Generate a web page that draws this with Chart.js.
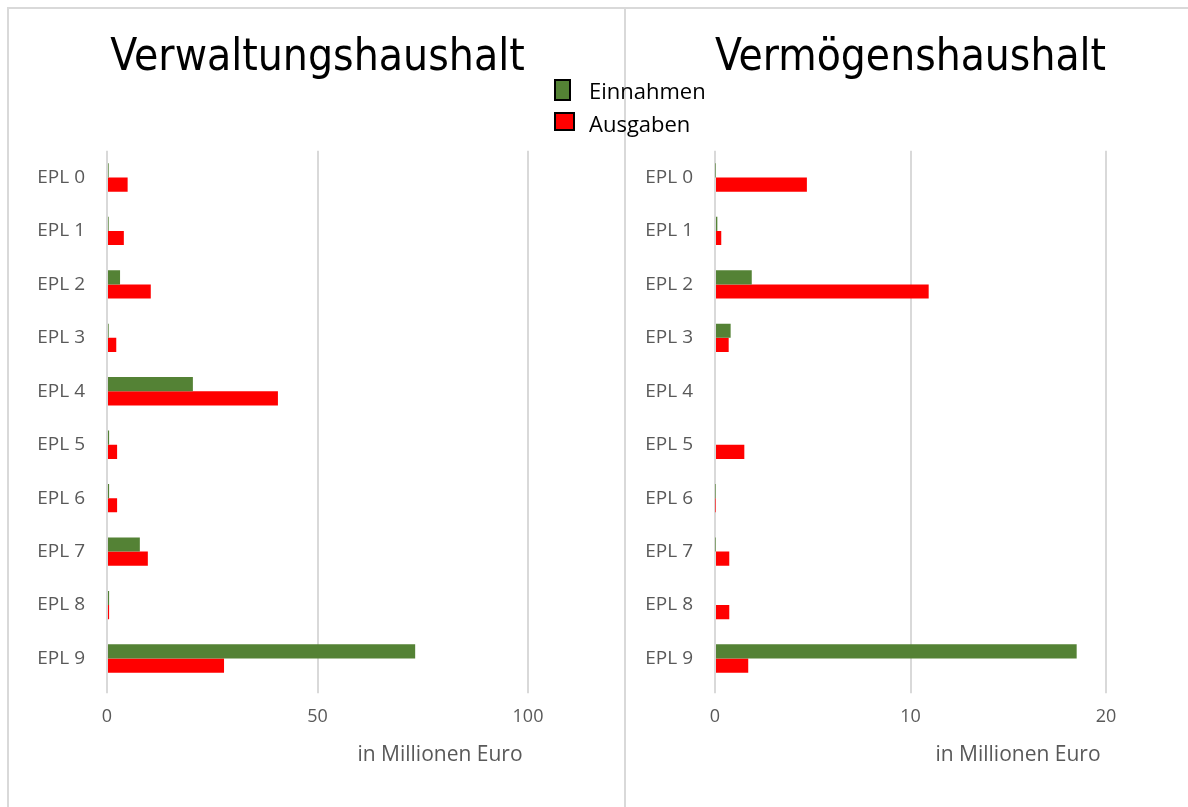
<!DOCTYPE html>
<html><head><meta charset="utf-8">
<script src="https://cdn.jsdelivr.net/npm/chart.js@4"></script>
<style>
html,body{margin:0;padding:0;background:#fff;}
#wrap{position:relative;width:1188px;height:807px;overflow:hidden;background:#fff;}
.frame{position:absolute;background:#d9d9d9;}
canvas{position:absolute;}
#legend{position:absolute;left:554px;top:79px;font-family:'Open Sans',sans-serif;font-size:22px;color:#000;line-height:1;}
.li{position:relative;height:33px;}
.sw{position:absolute;left:0;box-sizing:border-box;border:2px solid #000;}
.lt{position:absolute;left:35px;top:0px;white-space:nowrap;}
</style>
</head><body>
<div id="wrap">
  <div class="frame" style="left:7px;top:7px;width:1181px;height:2px;"></div>
  <div class="frame" style="left:7px;top:7px;width:2px;height:800px;"></div>
  <div class="frame" style="left:624px;top:7px;width:2px;height:800px;"></div>
  <canvas id="c1" width="617" height="799" style="left:8px;top:8px;"></canvas>
  <canvas id="c2" width="562" height="799" style="left:626px;top:8px;"></canvas>
  <div id="legend"></div>
</div>
<script>
// ---- data ----
const categories = ['EPL 0','EPL 1','EPL 2','EPL 3','EPL 4','EPL 5','EPL 6','EPL 7','EPL 8','EPL 9'];
const seriesNames = ['Einnahmen','Ausgaben'];
const seriesColors = ['#548235','#FF0000'];
const chartTitles = ['Verwaltungshaushalt','Vermögenshaushalt'];
const axisTitle = 'in Millionen Euro ';
const verwEinnahmen = [0.4, 0.4, 3.1, 0.4, 20.4, 0.5, 0.5, 7.8, 0.5, 73.2];
const verwAusgaben  = [4.9, 4.0, 10.4, 2.2, 40.6, 2.4, 2.4, 9.7, 0.5, 27.8];
const vermEinnahmen = [0.02, 0.12, 1.88, 0.8, 0, 0, 0.02, 0.02, 0, 18.5];
const vermAusgaben  = [4.7, 0.32, 10.93, 0.7, 0, 1.5, 0.02, 0.73, 0.73, 1.7];
const verwTicks = [0, 50, 100];
const vermTicks = [0, 10, 20];

// ---- legend ----
const legendEl = document.getElementById('legend');
const swatchSizes = [[17,22],[21,19]];
seriesNames.forEach((n,i)=>{
  const d = document.createElement('div'); d.className='li';
  const s = document.createElement('div'); s.className='sw';
  s.style.width = swatchSizes[i][0]+'px'; s.style.height = swatchSizes[i][1]+'px';
  s.style.background = seriesColors[i];
  const t = document.createElement('div'); t.className='lt'; t.textContent = n;
  d.appendChild(s); d.appendChild(t); legendEl.appendChild(d);
});

const tickFont = {family:"'Open Sans', sans-serif", size:18};
const catFont = {family:"'Open Sans', sans-serif", size:19};
const gray = '#595959';

function makeChart(id, title, ein, aus, ticks, pad){
  const tmin = ticks[0], tmax = ticks[ticks.length-1];
  return new Chart(document.getElementById(id), {
    type:'bar',
    data:{
      labels: categories,
      datasets:[
        {label:seriesNames[0], data:ein, backgroundColor:seriesColors[0], categoryPercentage:0.53, barPercentage:1},
        {label:seriesNames[1], data:aus, backgroundColor:seriesColors[1], categoryPercentage:0.53, barPercentage:1}
      ]
    },
    options:{
      indexAxis:'y', responsive:false, animation:false, devicePixelRatio:1,
      layout:{padding:{left:0, right:pad.r, top:0, bottom:pad.b}},
      plugins:{
        legend:{display:false}, tooltip:{enabled:false},
        title:{display:true, text:title, color:'#000', fullSize:false,
          font:{family:"'DejaVu Sans Condensed', 'DejaVu Sans', sans-serif", size:44, weight:'normal'},
          padding:{top:24, bottom:66}}
      },
      scales:{
        x:{min:tmin, max:tmax,
          afterBuildTicks: s => { s.ticks = ticks.map(v=>({value:v})); },
          ticks:{font:tickFont, color:gray, padding:13},
          grid:{color:'#d9d9d9', lineWidth:2, tickLength:8},
          border:{display:false},
          title:{display:true, text:axisTitle, align:'end', color:gray,
            font:{family:"'Open Sans', sans-serif", size:21}, padding:{top:2,bottom:0}}
        },
        y:{
          grid:{display:false, drawTicks:false}, border:{display:false},
          ticks:{font:catFont, color:gray, padding:22},
          afterFit: s => { s.width = pad.w; }
        }
      }
    }
  });
}
makeChart('c1', chartTitles[0], verwEinnahmen, verwAusgaben, verwTicks, {r:97, b:39, w:99});
makeChart('c2', chartTitles[1], vermEinnahmen, vermAusgaben, vermTicks, {r:82, b:39, w:89});
</script>
</body></html>
